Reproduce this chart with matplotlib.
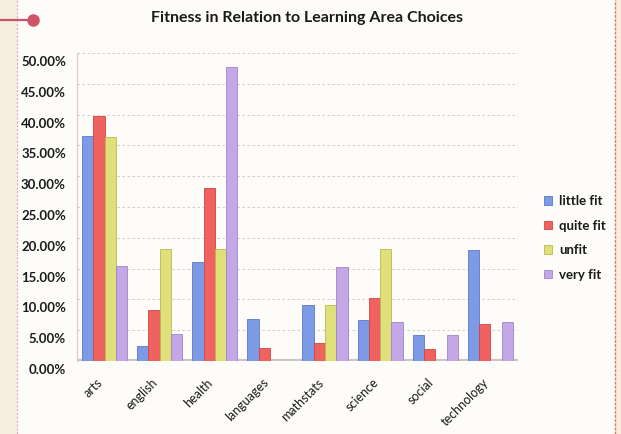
import numpy as np
import matplotlib
matplotlib.use("Agg")
import matplotlib.pyplot as plt
from matplotlib.transforms import ScaledTranslation
from matplotlib.lines import Line2D
from matplotlib.patches import Rectangle

categories = ["arts", "english", "health", "languages",
              "mathstats", "science", "social", "technology"]
little_fit = [36.5, 2.4, 16.0, 6.8, 9.1, 6.7, 4.3, 18.0]
quite_fit = [39.8, 8.3, 28.1, 2.1, 2.9, 10.3, 2.0, 6.0]
unfit = [36.4, 18.2, 18.2, 0.0, 9.1, 18.2, 0.0, 0.0]
very_fit = [15.5, 4.4, 47.8, 0.0, 15.3, 6.4, 4.3, 6.3]
series_names = ["little fit", "quite fit", "unfit", "very fit"]
series_colors = ["#7d9ae6", "#f0625f", "#dfe07a", "#c4a7e6"]
edge_colors = ["#5a78c8", "#cf4444", "#b8b84e", "#9f84c8"]
y_ticks = [0, 5, 10, 15, 20, 25, 30, 35, 40, 45, 50]
title = "Fitness in Relation to Learning Area Choices"

W, H = 621, 434
plt.rcParams["font.family"] = ["Lato", "DejaVu Sans"]

fig = plt.figure(figsize=(W / 100, H / 100), dpi=100)
fig.patch.set_facecolor("#f6eedf")


def fx(x):
    return x / W


def fy(y):
    return 1 - y / H


# page panel and its borders
fig.patches.append(Rectangle((fx(17), 0), fx(615) - fx(17), 1,
                             transform=fig.transFigure, facecolor="#fdfcf9",
                             edgecolor="none", zorder=-5))
fig.add_artist(Line2D([fx(17), fx(17)], [0, 1], transform=fig.transFigure,
                      color="#e2a9b6", lw=0.8, ls=(0, (2, 1.5)), zorder=-4))
fig.add_artist(Line2D([fx(615), fx(615)], [0, 1], transform=fig.transFigure,
                      color="#e4745a", lw=1.0, ls=(0, (2, 1)), zorder=-4))
fig.add_artist(Line2D([fx(0), fx(33)], [fy(20), fy(20)], transform=fig.transFigure,
                      color="#c9536a", lw=1.6))
fig.add_artist(Line2D([fx(33)], [fy(20)], transform=fig.transFigure,
                      marker="o", markersize=8, color="#cf5466", lw=0))

ax = fig.add_axes([fx(77), fy(361), fx(518) - fx(77), fy(53) - fy(361)])
ax.set_facecolor("none")
ax.set_zorder(1)

x = np.arange(len(categories))
w = 0.205
offsets = [-1.5, -0.5, 0.5, 1.5]
handles = []
for vals, name, col, ec, off in zip([little_fit, quite_fit, unfit, very_fit],
                                    series_names, series_colors, edge_colors, offsets):
    b = ax.bar(x + off * w, vals, width=w, color=col, edgecolor=ec,
               linewidth=0.6, label=name, zorder=3)
    handles.append(b)

ax.set_xlim(-0.5, 7.5)
ax.set_ylim(0, 50)
ax.set_yticks(y_ticks)
ax.set_yticklabels([f"{v:.2f}%" for v in y_ticks])
ax.set_xticks(x)
ax.set_xticklabels(categories, rotation=45, ha="right", rotation_mode="anchor")

ax.grid(axis="y", color="#cbc3c3", lw=0.6, ls=(0, (3, 3)), zorder=0)
for s in ["top", "right", "bottom"]:
    ax.spines[s].set_visible(False)
ax.spines["left"].set_color("#e0c4cc")
ax.spines["left"].set_linewidth(0.8)
ax.axhline(0, color="#c9c4c6", lw=3, zorder=2)

ax.tick_params(axis="both", length=0)
ax.tick_params(axis="y", pad=8, labelsize=9.5, labelcolor="#1a1a1a")
ax.tick_params(axis="x", pad=11, labelsize=9, labelcolor="#1a1a1a")
for lab in ax.get_yticklabels():
    lab.set_fontweight("bold")
    lab.set_transform(lab.get_transform() + ScaledTranslation(0, -0.08, fig.dpi_scale_trans))
for lab in ax.get_xticklabels():
    lab.set_transform(lab.get_transform() + ScaledTranslation(-0.08, 0, fig.dpi_scale_trans))

fig.text(fx(307), fy(18), title, ha="center", va="center",
         fontsize=11.5, fontweight="bold", color="#1a1a1a")

leg = fig.legend(handles=[h.patches[0] for h in handles], labels=series_names,
                 loc="center left", bbox_to_anchor=(fx(537), fy(238)),
                 frameon=False, fontsize=9.5, handlelength=0.6, handleheight=0.6,
                 handletextpad=0.6, labelspacing=0.95, borderpad=0)
for t in leg.get_texts():
    t.set_fontweight("bold")
    t.set_color("#1a1a1a")

fig.savefig("out.png", dpi=100, facecolor=fig.get_facecolor())
